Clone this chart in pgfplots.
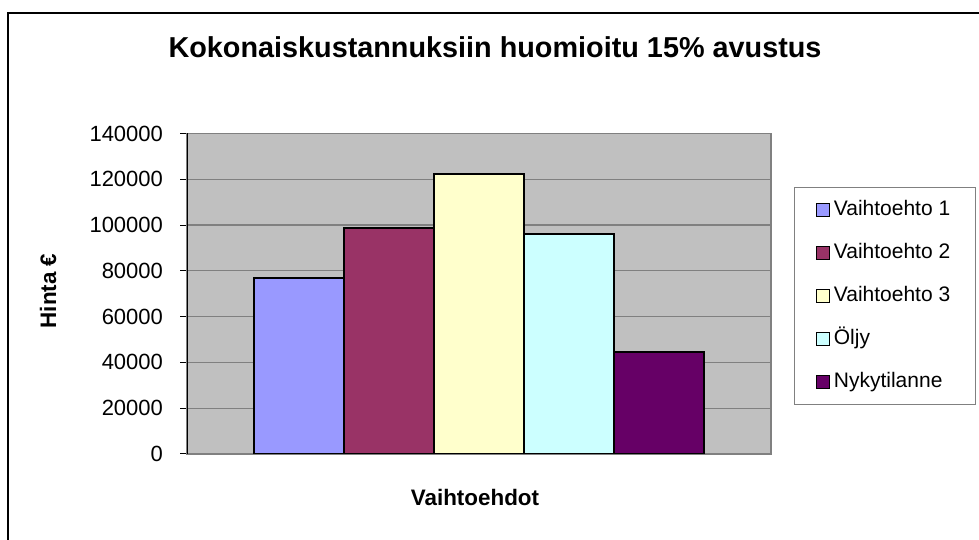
\documentclass[border=0pt]{standalone}
\usepackage{pgfplots}
\pgfplotsset{compat=1.18}
\usepackage{fontspec}
\setmainfont{Liberation Sans}
\definecolor{cA}{HTML}{9999FF}
\definecolor{cB}{HTML}{993366}
\definecolor{cC}{HTML}{FFFFCC}
\definecolor{cD}{HTML}{CCFFFF}
\definecolor{cE}{HTML}{660066}
\definecolor{bg}{HTML}{C0C0C0}
\definecolor{grd}{HTML}{808080}
\pgfplotsset{
  mybar/.style={ybar, bar width=1, bar shift=0pt, draw=black, line width=1pt, fill=#1,
    legend image code/.code={\draw[##1, line width=0.6pt] (0pt,-3.3pt) rectangle (6.6pt,3.3pt);}},
}
\begin{document}
\begin{tikzpicture}
\useasboundingbox (0,0) rectangle (489.5pt,270pt);
\draw[line width=1.3pt] (4pt,-20pt) -- (4pt,263.5pt) -- (520pt,263.5pt);
\node[font=\fontsize{14.4}{16}\selectfont\bfseries] at (247.5pt,246.5pt) {Kokonaiskustannuksiin huomioitu 15\% avustus};
\node[font=\fontsize{11.2}{13}\selectfont\bfseries, rotate=90] at (24pt,124.5pt) {Hinta €};
\node[font=\fontsize{11.2}{13}\selectfont\bfseries] at (237.5pt,21.5pt) {Vaihtoehdot};
\begin{axis}[
  at={(93.5pt,43pt)}, anchor=south west, scale only axis,
  width=292pt, height=160.25pt,
  xmin=0, xmax=6.5, ymin=0, ymax=140000,
  xtick=\empty, ytick={0,20000,40000,60000,80000,100000,120000,140000},
  scaled y ticks=false,
  yticklabel={\pgfmathprintnumber[fixed, precision=0, set thousands separator={}, assume math mode=true]{\tick}},
  yticklabel style={font=\fontsize{11}{13}\selectfont, xshift=-5pt},
  axis background/.style={fill=bg},
  axis line style={grd, line width=0.7pt},
  ymajorgrids, major grid style={grd, line width=0.6pt},
  tick align=outside, ytick pos=left, major tick length=3.5pt,
  tick style={black, line width=0.5pt},
  legend cell align=left,
  legend style={at={(axis description cs:1.0394,0.833)}, anchor=north west,
    draw=grd, line width=0.5pt, font=\fontsize{10.5}{12}\selectfont,
    inner xsep=10.5pt, inner ysep=4.5pt, row sep=8pt,
    nodes={text height=7.5pt, text depth=2pt, inner sep=2pt}},
]
\addplot[mybar=cA] coordinates {(1.25,76900)};
\addlegendentry{Vaihtoehto 1}
\addplot[mybar=cB] coordinates {(2.25,98600)};
\addlegendentry{Vaihtoehto 2}
\addplot[mybar=cC] coordinates {(3.25,122200)};
\addlegendentry{Vaihtoehto 3}
\addplot[mybar=cD] coordinates {(4.25,96100)};
\addlegendentry{Öljy}
\addplot[mybar=cE] coordinates {(5.25,44400)};
\addlegendentry{Nykytilanne}
\draw[black, line width=0.7pt] (rel axis cs:0,0) -- (rel axis cs:0,1);
\end{axis}
\end{tikzpicture}
\end{document}
